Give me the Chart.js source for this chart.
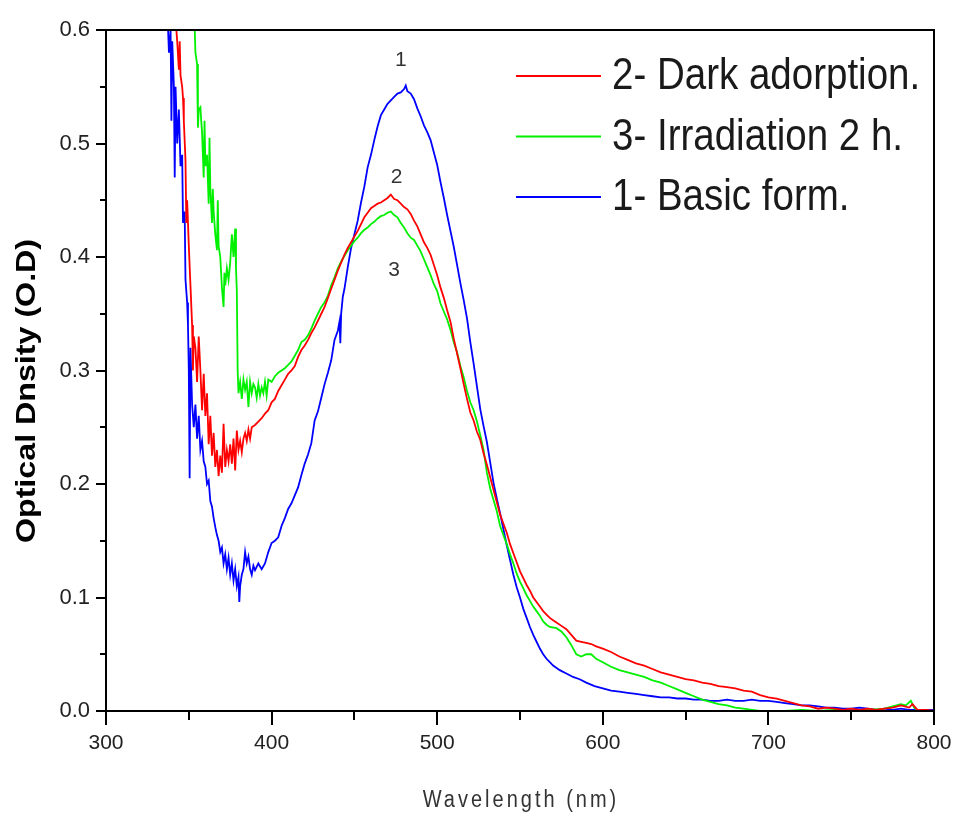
<!DOCTYPE html>
<html><head><meta charset="utf-8">
<script src="https://cdn.jsdelivr.net/npm/chart.js@4/dist/chart.umd.min.js"></script>
<style>html,body{margin:0;padding:0;background:#fff}canvas{display:block}</style>
</head><body>
<canvas id="c" width="954" height="816"></canvas>
<script>
// ---- series labels & colours ----
const seriesLabels = ['2- Dark adorption.', '3- Irradiation 2 h.', '1- Basic form.'];
const seriesColors = ['#ff0000', '#00f000', '#0000ff'];

// ---- tick labels ----
const xTickLabels = [300, 400, 500, 600, 700, 800];
const yTickLabels = [0.0, 0.1, 0.2, 0.3, 0.4, 0.5, 0.6];

// ---- curve annotations ----
const peakTexts = ['1', '2', '3'];
const peakWl = [478, 475.5, 474];
const peakOD = [0.573, 0.47, 0.388];

// ---- 2- Dark adorption (red) ----
const darkWl = [
 338,342,343,344,344.5,345,346,346.5,347,348,
 348.5,349,350,351,352,352.5,353,354,355,356,
 357,358,359,360,361,362,363,364,365,366,
 367,368,369,370,371,372,373,374,375,376,
 377,378,379,380,381,382,383,384,385,386,
 387,388,390,392,394,396,398,400,402,404,
 406,408,410,412,414,416,418,420,422,424,
 426,428,430,432,434,436,438,440,442,444,
 446,448,450,452,454,456,458,460,462,464,
 466,468,470,472,474,476,478,480,482,484,
 486,488,490,492,494,496,498,500,502,504,
 506,508,510,512,514,516,518,520,522,524,
 526,528,530,532,534,536,538,540,542,544,
 546,548,550,552,554,556,558,560,562,564,
 566,568,570,572,575,578,581,584,587,590,
 593,596,600,605,610,615,620,625,630,635,
 640,645,650,655,660,665,670,675,680,685,
 690,695,700,705,710,715,720,725,730,735,
 740,745,750,755,760,765,770,775,780,785,787,790,795,800];
const darkOD = [
 0.68,0.61,0.59,0.565,0.59,0.56,0.55,0.54,0.52,0.485,
 0.43,0.45,0.41,0.375,0.34,0.30,0.33,0.32,0.29,0.33,
 0.30,0.265,0.297,0.26,0.28,0.235,0.26,0.225,0.245,0.215,
 0.23,0.207,0.225,0.21,0.253,0.215,0.23,0.22,0.235,0.218,
 0.24,0.212,0.247,0.23,0.238,0.228,0.24,0.245,0.238,0.248,
 0.24,0.25,0.252,0.255,0.258,0.262,0.265,0.272,0.275,0.282,
 0.287,0.292,0.297,0.3,0.304,0.312,0.318,0.322,0.327,0.333,
 0.338,0.344,0.35,0.356,0.364,0.372,0.38,0.388,0.395,0.402,
 0.408,0.413,0.418,0.423,0.429,0.435,0.439,0.443,0.445,0.447,
 0.448,0.45,0.452,0.455,0.451,0.45,0.447,0.444,0.442,0.438,
 0.432,0.427,0.42,0.413,0.408,0.402,0.393,0.384,0.373,0.364,
 0.353,0.343,0.328,0.315,0.302,0.288,0.275,0.263,0.256,0.246,
 0.239,0.227,0.217,0.206,0.195,0.184,0.173,0.165,0.157,0.147,
 0.139,0.131,0.123,0.117,0.111,0.106,0.1,0.096,0.092,0.088,
 0.085,0.082,0.08,0.078,0.075,0.072,0.067,0.062,0.061,0.06,
 0.059,0.057,0.055,0.052,0.048,0.045,0.042,0.04,0.037,0.034,
 0.032,0.03,0.028,0.027,0.025,0.024,0.022,0.021,0.02,0.018,
 0.017,0.014,0.012,0.011,0.009,0.007,0.005,0.004,0.002,0.003,
 0.002,0.001,0.002,0.001,0.002,0.001,0.002,0.003,0.005,0.003,0.006,0.001,0.001,0];

// ---- 3- Irradiation 2 h (green) ----
const irrWl = [
 352,353.6,354,355,355.5,356,357,357.5,358,359,
 359.5,360,361,362,362.5,363,364,364.5,365,366,
 367,367.5,368,369,370,371,371.5,372,373,374,
 375,376,377,378,378.5,379,379.5,380,381,382,
 383,384,385,386,387,388,389,390,391,392,
 393,394,395,396,397,398,400,402,404,406,
 408,410,412,414,416,418,420,422,424,426,
 428,430,432,434,436,438,440,442,444,446,
 448,450,452,454,456,458,460,462,464,466,
 468,470,472,474,476,478,480,482,484,486,
 488,490,492,494,496,498,500,502,504,506,
 508,510,512,514,516,518,520,522,524,526,
 528,530,532,534,536,538,540,542,544,546,
 548,550,552,554,556,558,560,562,564,566,
 568,572,575,578,581,584,587,590,593,596,
 600,605,610,615,620,625,630,635,640,645,
 650,655,660,665,670,675,680,685,690,695,
 700,710,720,730,740,750,760,770,775,780,
 783,786,788,790,795,800];
const irrOD = [
 0.66,0.60,0.58,0.57,0.514,0.53,0.532,0.52,0.51,0.47,
 0.52,0.48,0.49,0.447,0.505,0.46,0.43,0.46,0.44,0.42,
 0.406,0.45,0.41,0.40,0.373,0.356,0.386,0.375,0.39,0.38,
 0.395,0.42,0.40,0.425,0.39,0.37,0.30,0.28,0.29,0.275,
 0.292,0.283,0.29,0.268,0.29,0.28,0.288,0.285,0.276,0.288,
 0.278,0.285,0.28,0.29,0.278,0.292,0.29,0.295,0.298,0.3,
 0.302,0.305,0.308,0.313,0.318,0.325,0.327,0.331,0.337,0.344,
 0.35,0.356,0.36,0.366,0.375,0.382,0.39,0.396,0.401,0.406,
 0.41,0.414,0.417,0.421,0.424,0.426,0.429,0.431,0.434,0.436,
 0.437,0.439,0.44,0.437,0.435,0.43,0.426,0.421,0.417,0.415,
 0.41,0.405,0.398,0.391,0.384,0.376,0.37,0.359,0.352,0.345,
 0.336,0.325,0.316,0.304,0.294,0.282,0.272,0.265,0.255,0.243,
 0.23,0.21,0.196,0.186,0.176,0.163,0.155,0.147,0.138,0.13,
 0.121,0.114,0.108,0.102,0.097,0.092,0.088,0.084,0.079,0.076,
 0.074,0.073,0.07,0.065,0.058,0.05,0.048,0.05,0.05,0.046,
 0.043,0.039,0.036,0.034,0.032,0.03,0.027,0.025,0.022,0.019,
 0.016,0.013,0.01,0.008,0.006,0.005,0.003,0.002,0.001,0,
 0,0,0.001,0,0.001,0,0.001,0.002,0.004,0.006,
 0.005,0.009,0.003,0.001,0,0];

// ---- 1- Basic form (blue) ----
const basicWl = [
 336,338,339,339.5,340,341,341.5,342,343,344,
 345,346,346.5,347.5,348,349,349.5,350,350.5,351,
 352,353,354,355,356,357,358,359,360,361,
 362,363,364,365,366,367,368,369,370,371,
 372,373,374,375,376,377,378,379,380,380.5,
 381,382,383,384,385,386,387,388,389,390,
 392,394,396,398,400,402,404,406,408,410,
 412,414,416,418,420,422,424,426,428,430,
 432,434,436,438,440,441,441.5,442,443,444,
 446,448,450,452,454,456,458,460,462,464,
 466,468,470,472,474,476,478,480,481,482,
 484,486,488,490,492,494,496,498,500,502,
 504,506,508,510,512,514,516,518,520,522,
 524,526,528,530,532,534,536,538,540,542,
 544,546,548,550,552,554,556,558,560,562,
 564,566,568,570,574,578,582,586,590,595,
 600,605,610,615,620,625,630,635,640,645,
 650,655,660,665,670,675,680,685,690,695,
 700,705,710,715,720,725,730,735,740,745,
 750,755,760,765,770,775,780,785,790,795,800];
const basicOD = [
 0.66,0.58,0.60,0.52,0.59,0.55,0.47,0.55,0.50,0.53,
 0.48,0.49,0.43,0.44,0.38,0.36,0.34,0.30,0.205,0.32,
 0.27,0.25,0.27,0.24,0.26,0.23,0.238,0.22,0.215,0.20,
 0.203,0.185,0.18,0.17,0.162,0.155,0.15,0.14,0.144,0.13,
 0.138,0.125,0.135,0.12,0.13,0.115,0.125,0.11,0.118,0.096,
 0.11,0.12,0.125,0.14,0.13,0.136,0.125,0.12,0.128,0.124,
 0.13,0.125,0.13,0.14,0.148,0.15,0.153,0.163,0.17,0.178,
 0.183,0.19,0.197,0.208,0.218,0.226,0.236,0.256,0.264,0.276,
 0.288,0.298,0.309,0.327,0.335,0.343,0.324,0.35,0.365,0.372,
 0.391,0.408,0.42,0.432,0.448,0.462,0.479,0.49,0.503,0.515,
 0.525,0.53,0.535,0.538,0.541,0.544,0.545,0.548,0.551,0.546,
 0.544,0.539,0.531,0.524,0.516,0.51,0.503,0.492,0.481,0.466,
 0.452,0.437,0.423,0.409,0.393,0.377,0.362,0.346,0.325,0.306,
 0.286,0.266,0.251,0.237,0.219,0.201,0.187,0.174,0.16,0.146,
 0.133,0.12,0.109,0.1,0.09,0.082,0.074,0.067,0.061,0.055,
 0.05,0.046,0.043,0.04,0.036,0.033,0.03,0.028,0.025,0.022,
 0.02,0.018,0.017,0.016,0.015,0.014,0.013,0.012,0.012,0.011,
 0.011,0.01,0.01,0.009,0.009,0.01,0.009,0.009,0.01,0.009,
 0.009,0.008,0.007,0.006,0.005,0.005,0.004,0.003,0.003,0.002,
 0.002,0.003,0.002,0.001,0.002,0.001,0.002,0.001,0.001,0.001,0.001];

const toPoints = (xs, ys) => xs.map((x, i) => ({x, y: ys[i]}));
const seriesData = [toPoints(darkWl, darkOD), toPoints(irrWl, irrOD), toPoints(basicWl, basicOD)];

const FONT = "'Liberation Sans', Arial, sans-serif";
const isMajorY = v => yTickLabels.some(t => Math.abs(t - v) < 1e-6);

const decor = {
  id: 'decor',
  afterDraw(chart) {
    const {ctx, chartArea: a, scales: {x, y}} = chart;
    ctx.save();
    // frame, axes and ticks
    ctx.strokeStyle = '#000';
    ctx.lineWidth = 2;
    ctx.lineCap = 'square';
    ctx.beginPath();
    ctx.moveTo(a.left, a.top); ctx.lineTo(a.right, a.top); ctx.lineTo(a.right, a.bottom);
    ctx.moveTo(a.left, a.top); ctx.lineTo(a.left, a.bottom); ctx.lineTo(a.right, a.bottom);
    ctx.stroke();
    ctx.lineCap = 'butt';
    ctx.beginPath();
    x.ticks.forEach(t => {
      const px = Math.round(x.getPixelForValue(t.value));
      const len = xTickLabels.includes(t.value) ? 14 : 9;
      ctx.moveTo(px, a.bottom); ctx.lineTo(px, a.bottom + len);
    });
    y.ticks.forEach(t => {
      const py = Math.round(y.getPixelForValue(t.value));
      const len = isMajorY(t.value) ? 10 : 6;
      ctx.moveTo(a.left, py); ctx.lineTo(a.left - len, py);
    });
    ctx.stroke();

    // curve numbers
    ctx.fillStyle = '#333';
    ctx.font = '21px ' + FONT;
    ctx.textAlign = 'center';
    ctx.textBaseline = 'middle';
    peakTexts.forEach((s, i) => {
      ctx.fillText(s, x.getPixelForValue(peakWl[i]), y.getPixelForValue(peakOD[i]));
    });

    // legend
    chart.data.datasets.forEach((ds, i) => {
      const ly = 76 + i * 60.5;
      ctx.strokeStyle = ds.borderColor;
      ctx.lineWidth = 2;
      ctx.beginPath(); ctx.moveTo(516, ly); ctx.lineTo(601, ly); ctx.stroke();
      ctx.save();
      ctx.translate(612, ly + 1);
      ctx.scale(1, 1.15);
      ctx.fillStyle = '#1a1a1a';
      ctx.font = '38.5px ' + FONT;
      ctx.textAlign = 'left';
      ctx.textBaseline = 'middle';
      ctx.fillText(ds.label, 0, 0);
      ctx.restore();
    });

    // axis titles
    ctx.save();
    ctx.translate(521, 801);
    ctx.scale(1, 1.15);
    ctx.fillStyle = '#333';
    ctx.font = '20px ' + FONT;
    if ('letterSpacing' in ctx) ctx.letterSpacing = '3px';
    ctx.textAlign = 'center';
    ctx.textBaseline = 'middle';
    ctx.fillText('Wavelength (nm)', 0, 0);
    ctx.restore();

    ctx.save();
    ctx.translate(27, 391);
    ctx.rotate(-Math.PI / 2);
    ctx.scale(1.15, 1);
    ctx.fillStyle = '#000';
    ctx.font = 'bold 28px ' + FONT;
    ctx.textAlign = 'center';
    ctx.textBaseline = 'middle';
    ctx.fillText('Optical Dnsity (O.D)', 0, 0);
    ctx.restore();

    ctx.restore();
  }
};

new Chart(document.getElementById('c'), {
  type: 'line',
  data: {
    datasets: seriesLabels.map((label, i) => ({
      label,
      data: seriesData[i],
      borderColor: seriesColors[i],
      backgroundColor: seriesColors[i],
      borderWidth: 1.8,
      pointRadius: 0,
      tension: 0,
      fill: false
    }))
  },
  options: {
    responsive: false,
    animation: false,
    devicePixelRatio: 1,
    layout: {padding: {top: 30, right: 20, left: 0, bottom: 0}},
    plugins: {legend: {display: false}, tooltip: {enabled: false}},
    scales: {
      x: {
        type: 'linear', min: 300, max: 800,
        grid: {display: false, drawTicks: false},
        border: {display: false},
        ticks: {
          stepSize: 50, autoSkip: false, maxRotation: 0, padding: 20,
          color: '#222', font: {family: FONT, size: 21},
          callback: v => xTickLabels.includes(v) ? String(v) : ''
        },
        afterFit(s) { s.height = 105; s.paddingLeft = 0; s.paddingRight = 0; }
      },
      y: {
        type: 'linear', min: 0, max: 0.6,
        grid: {display: false, drawTicks: false},
        border: {display: false},
        ticks: {
          stepSize: 0.05, autoSkip: false, padding: 16,
          color: '#222', font: {family: FONT, size: 22},
          callback: v => isMajorY(v) ? v.toFixed(1) : ''
        },
        afterFit(s) { s.width = 106; s.paddingTop = 0; s.paddingBottom = 0; }
      }
    }
  },
  plugins: [decor]
});
</script>
</body></html>
